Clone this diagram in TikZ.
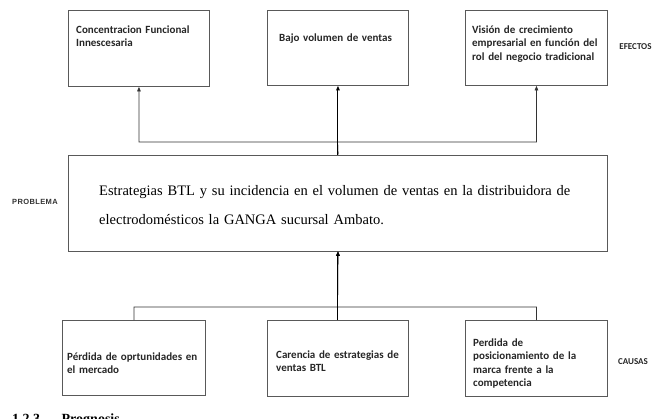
\documentclass[tikz,border=0pt]{standalone}
\usepackage{fontspec}
\setmainfont{Liberation Serif}
\newfontfamily\calfont{Carlito}
\newfontfamily\arialfont[LetterSpace=5]{Liberation Sans}
\usetikzlibrary{arrows.meta}
\tikzset{
  box/.style={draw=black!65, line width=0.9pt, fill=white, inner sep=0, anchor=north west},
  boxtext/.style={anchor=base west, inner sep=0, text width=140pt, align=left,
    font=\calfont\bfseries\fontsize{11}{13.4}\selectfont, text=black!85},
  lbl/.style={inner sep=0, font=\calfont\bfseries\fontsize{9}{10}\selectfont, text=black!85},
  conn/.style={line width=0.8pt, draw=black!80},
  arr/.style={conn, -{Triangle[length=4.5pt,width=3.6pt]}},
}
\begin{document}
\begin{tikzpicture}[x=1pt,y=-1pt]
\useasboundingbox (0,0) rectangle (661,418);
\clip (0,0) rectangle (661,418);
% effects
\node[box, minimum width=141pt, minimum height=76pt] (t1) at (68,10) {};
\node[box, minimum width=141pt, minimum height=75pt] (t2) at (267,10) {};
\node[box, minimum width=142pt, minimum height=75pt] (t3) at (465,10) {};
\node[boxtext] (t1x) at (76,33.5) {Concentracion Funcional\\Innescesaria};
\node[boxtext] (t2x) at (279,41.5) {Bajo volumen de ventas};
\node[boxtext] (t3x) at (472,33.5) {Visión de crecimiento\\empresarial en función del\\rol del negocio tradicional};
\node[lbl] (ef) at (635.5,47) {EFECTOS};
% problem
\node[box, minimum width=539pt, minimum height=96pt] (prob) at (68,154.5) {};
\node[anchor=base west, inner sep=0, text width=520pt, align=left,
  font=\fontsize{14.5}{29}\selectfont] (probx) at (99,195.5)
  {Estrategias BTL y su incidencia en el volumen de ventas en la distribuidora de\\electrodomésticos la GANGA sucursal Ambato.};
\node[inner sep=0, font=\arialfont\bfseries\fontsize{7.5}{8}\selectfont, text=black!80] (pl) at (35,202) {PROBLEMA};
% causes
\node[box, minimum width=143pt, minimum height=75pt] (b1) at (62,320) {};
\node[box, minimum width=141pt, minimum height=76pt] (b2) at (267,320) {};
\node[box, minimum width=142pt, minimum height=76pt] (b3) at (465,320) {};
\node[boxtext] (b1x) at (67,360.5) {Pérdida de oprtunidades en\\el mercado};
\node[boxtext] (b2x) at (276,358.5) {Carencia de estrategias de\\ventas BTL};
\node[boxtext] (b3x) at (473,346.5) {Perdida de\\posicionamiento de la\\marca frente a la\\competencia};
\node[lbl] (ca) at (633,362) {CAUSAS};
% connectors
\coordinate (ht) at (337.5,142);
\coordinate (hb) at (337.5,307);
\draw[arr] (prob.north) -- (ht) -| (t1.south);
\draw[arr] (prob.north) -- (ht) -| (t3.south);
\draw[arr, line width=1pt, draw=black] (prob.north) -- (t2.south);
\draw[arr] (b1.north) |- (hb) -- (prob.south);
\draw[arr] (b3.north) |- (hb) -- (prob.south);
\draw[arr, line width=1pt, draw=black] (b2.north) -- (prob.south);
% cut-off heading
\node[anchor=base west, inner sep=0, font=\bfseries\fontsize{14}{16}\selectfont] (hd) at (12,423.5) {1.2.3.\hspace{18pt}Prognosis};
\end{tikzpicture}
\end{document}
